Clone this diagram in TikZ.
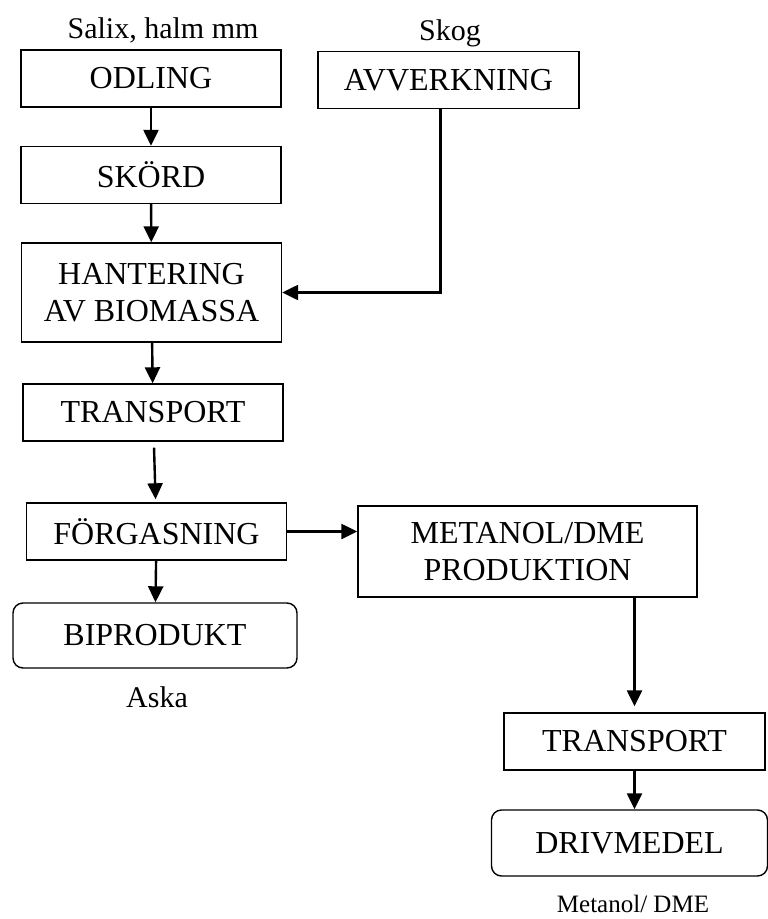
\documentclass[tikz,border=0pt]{standalone}
\usepackage{fontspec}
\setmainfont{Liberation Serif}
\usetikzlibrary{positioning}
\usetikzlibrary{arrows.meta}

\begin{document}
\begin{tikzpicture}[
            x=1pt, y=-1pt,
            >={Triangle[length=16pt, width=15pt]},
            box/.style={draw, rectangle, line width=1.4pt, minimum width=260pt, minimum height=57pt, inner sep=0pt, align=center, font=\fontsize{32}{37}\selectfont},
            endbox/.style={box, rounded corners=10pt},
            lbl/.style={inner sep=0pt, font=\fontsize{30}{34}\selectfont},
            arr/.style={->, line width=2.4pt}
        ]
            \useasboundingbox (0,0) rectangle (768,919);

            % Salix
            \node[lbl] (salix) at (163,30) {Salix, halm mm};
            \node[box] (odling) at (151,78.5) {ODLING};
            \node[box] (skord) at (151,175) {SKÖRD};
            \node[box, minimum height=99pt] (hant) at (151.5,292.5) {HANTERING\\AV BIOMASSA};
            \draw[arr] (odling) -- (skord);
            \draw[arr] (skord) -- (hant);

            % Skog
            \node[lbl] (skog) at (450,33) {Skog};
            \node[box, minimum width=261pt] (avv) at (448.5,80) {AVVERKNING};
            \draw[arr] ([xshift=-8pt]avv.south) |- (hant.east);

            % Transport, gasification
            \node[box] (trans) at (153,412.5) {TRANSPORT};
            \node[box] (forg) at (156.5,531.5) {FÖRGASNING};
            \draw[arr] (hant) -- (trans);
            \draw[arr, shorten <=6pt, shorten >=3pt] (trans) -- (forg);

            % By-product
            \node[endbox, minimum width=284pt, minimum height=65pt] (bipr) at (155,635.5) {BIPRODUKT};
            \node[lbl] (aska) at (157,697) {Aska};
            \draw[arr] (forg) -- (bipr);

            % Methanol
            \node[box, minimum width=339pt, minimum height=91pt] (metanol) at (527.5,551.5) {METANOL/DME\\PRODUKTION};
            \draw[arr] (forg.east) -- (forg.east -| metanol.west);

            \node[box, minimum width=261pt] (trans2) at (634.5,741.5) {TRANSPORT};
            \node[endbox, minimum width=276pt, minimum height=66pt] (driv) at (629.5,843) {DRIVMEDEL};
            \node[lbl, font=\fontsize{25}{30}\selectfont] (fuel) at (633,904) {Metanol/ DME};
            \draw[arr, shorten >=6pt] (trans2.north |- metanol.south) -- (trans2.north);
            \draw[arr] (trans2.south) -- (trans2.south |- driv.north);
        \end{tikzpicture}
\end{document}
